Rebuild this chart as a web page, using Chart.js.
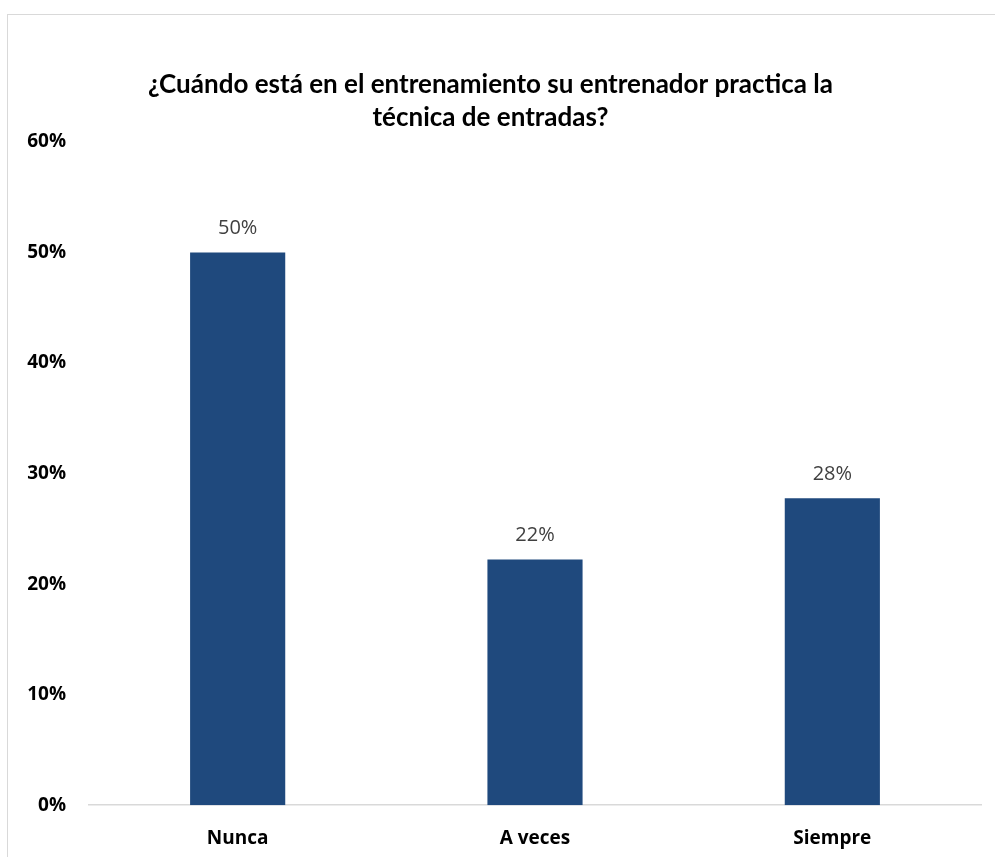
<!DOCTYPE html>
<html>
<head>
<meta charset="utf-8">
<script src="https://cdn.jsdelivr.net/npm/chart.js@4/dist/chart.umd.min.js"></script>
<style>
  html, body { margin: 0; padding: 0; background: #ffffff; overflow: hidden; }
  #frame { position: absolute; left: 7px; top: 14px; width: 1100px; height: 1000px; border: 1px solid #d9d9d9; box-sizing: border-box; }
  #wrap { position: absolute; left: 0; top: 0; width: 995px; height: 900px; }
</style>
</head>
<body>
<div id="frame"></div>
<div id="wrap"><canvas id="c" width="995" height="900"></canvas></div>
<script>
const titleLines = ["¿Cuándo está en el entrenamiento su entrenador practica la", "técnica de entradas?"];
const categories = ["Nunca", "A veces", "Siempre"];
const values = [50, 22.22, 27.78];
const yTicks = [0, 10, 20, 30, 40, 50, 60];

const valueLabels = {
  id: 'valueLabels',
  afterDatasetsDraw(chart) {
    const ctx = chart.ctx;
    const meta = chart.getDatasetMeta(0);
    ctx.save();
    ctx.font = '400 20px "Open Sans"';
    ctx.fillStyle = '#404040';
    ctx.textAlign = 'center';
    ctx.textBaseline = 'middle';
    meta.data.forEach((bar, i) => {
      ctx.fillText(Math.round(values[i]) + '%', bar.x, bar.y - 24);
    });
    ctx.restore();
  }
};

function draw() {
  new Chart(document.getElementById('c'), {
    type: 'bar',
    data: {
      labels: categories,
      datasets: [{
        data: values,
        backgroundColor: '#1F497D',
        borderWidth: 0,
        barPercentage: 0.64,
        categoryPercentage: 0.5
      }]
    },
    options: {
      responsive: false,
      animation: false,
      devicePixelRatio: 1,
      layout: { padding: { top: 0, right: 14, bottom: 28, left: 0 } },
      plugins: {
        legend: { display: false },
        tooltip: { enabled: false },
        title: {
          display: true,
          text: titleLines,
          color: '#000000',
          font: { family: 'Lato', size: 26, weight: 'bold', lineHeight: 1.27 },
          padding: { top: 68, bottom: 8 }
        }
      },
      scales: {
        x: {
          grid: { display: false, drawTicks: false },
          border: { display: true, color: '#d9d9d9', width: 1.5 },
          ticks: { color: '#000000', font: { family: 'Open Sans', size: 19, weight: 'bold' }, padding: 22 }
        },
        y: {
          min: 0,
          max: 60,
          afterFit(scale) { scale.width = 89; },
          afterBuildTicks(scale) { scale.ticks = yTicks.map(v => ({ value: v })); },
          grid: { display: false, drawTicks: false },
          border: { display: false },
          ticks: {
            color: '#000000',
            font: { family: 'Open Sans', size: 19, weight: 'bold' },
            padding: 23,
            callback: v => v + '%'
          }
        }
      }
    },
    plugins: [valueLabels]
  });
}

Promise.all([
  document.fonts.load('700 19px "Open Sans"'),
  document.fonts.load('400 20px "Open Sans"'),
  document.fonts.load('700 26px Lato')
]).then(draw, draw);
</script>
</body>
</html>
